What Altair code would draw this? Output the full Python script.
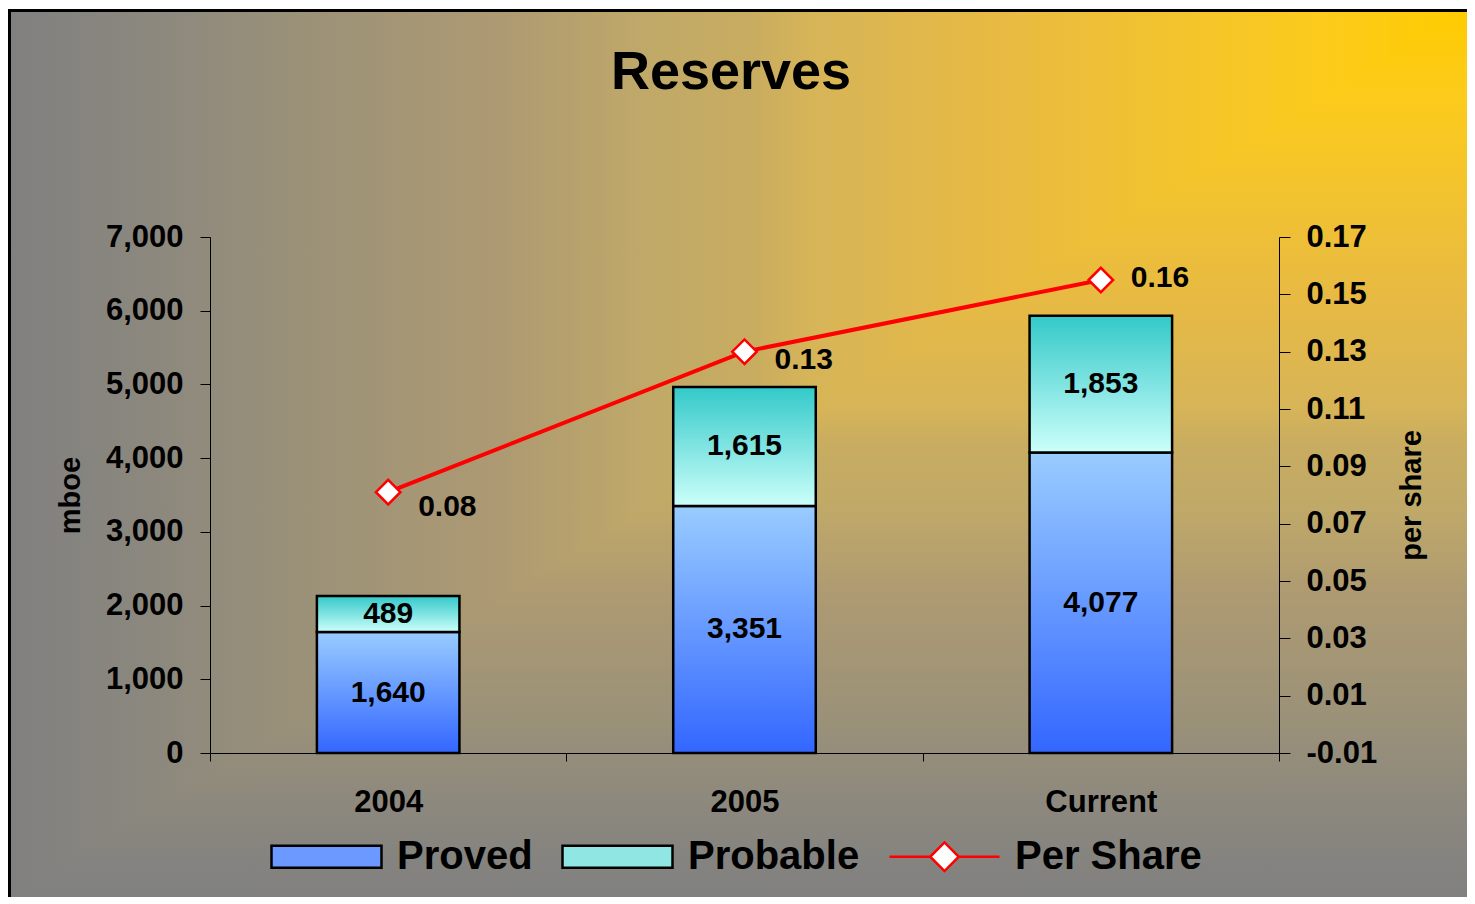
import altair as alt
import pandas as pd

# ---------------- data ----------------
CATEGORIES = ["2004", "2005", "Current"]
PROVED = [1640, 3351, 4077]
PROBABLE = [489, 1615, 1853]
PER_SHARE = [0.081, 0.130, 0.155]
PER_SHARE_LABELS = ["0.08", "0.13", "0.16"]
SERIES = ["Proved", "Probable", "Per Share"]
LEFT_TICKS = [0, 1000, 2000, 3000, 4000, 5000, 6000, 7000]
RIGHT_TICKS = [-0.01, 0.01, 0.03, 0.05, 0.07, 0.09, 0.11, 0.13, 0.15, 0.17]
TITLE = "Reserves"
LEFT_TITLE = "mboe"
RIGHT_TITLE = "per share"

# ---------------- layout / style ----------------
FONT = "Liberation Sans"
W, H = 1069, 516
CX0, CX1, CY0, CY1 = -202, 1257, -228, 660   # canvas extent relative to plot origin
CW, CH = CX1 - CX0, CY1 - CY0
LABEL_DY = [15, 8, -2]   # vertical nudge of each per-share label

RAMP = [(0.00, "#FFCC00"), (0.10, "#FCCB1C"), (0.32, "#E8BA42"), (0.45, "#D6B458"),
        (0.49, "#C8AC60"), (0.56, "#C0A968"), (0.66, "#AE9A72"), (0.79, "#9C9278"),
        (0.90, "#8C887E"), (1.00, "#808080")]
STOPS = [{"offset": o, "color": c} for o, c in RAMP]
GRAD_H = {"gradient": "linear", "x1": 1, "y1": 0, "x2": 0, "y2": 0, "stops": STOPS}
GRAD_V = {"gradient": "linear", "x1": 0, "y1": 0, "x2": 0, "y2": 1, "stops": STOPS}
PROVED_GRAD = {"gradient": "linear", "x1": 0, "y1": 0, "x2": 0, "y2": 1,
               "stops": [{"offset": 0, "color": "#99CCFF"}, {"offset": 1, "color": "#3366FF"}]}
PROBABLE_GRAD = {"gradient": "linear", "x1": 0, "y1": 0, "x2": 0, "y2": 1,
                 "stops": [{"offset": 0, "color": "#33C9C9"}, {"offset": 1, "color": "#CCFFFA"}]}

df = pd.DataFrame({"cat": CATEGORIES, "proved": PROVED, "probable": PROBABLE,
                   "per_share": PER_SHARE, "ps_label": PER_SHARE_LABELS})
df["total"] = df["proved"] + df["probable"]
df["proved_mid"] = df["proved"] / 2
df["probable_mid"] = df["proved"] + df["probable"] / 2

one = alt.Data(values=[{"k": 1}])

# ---------------- background ----------------
bg_h = alt.Chart(one).mark_rect(fill=GRAD_H, strokeWidth=0).encode(
    x=alt.value(CX0), x2=alt.value(CX1), y=alt.value(CY0), y2=alt.value(CY1))
r = CH / CW
TRI = f"M1,{-r:.5f}L1,{r:.5f}L-1,{r:.5f}Z"
bg_v = alt.Chart(one).mark_point(shape=TRI, size=CW * CW, filled=True, fill=GRAD_V,
                                 opacity=1, strokeWidth=0).encode(
    x=alt.value((CX0 + CX1) / 2), y=alt.value((CY0 + CY1) / 2))
border_l = alt.Chart(one).mark_rect(fill="black", strokeWidth=0).encode(
    x=alt.value(CX0), x2=alt.value(CX0 + 3), y=alt.value(CY0), y2=alt.value(CY1))
border_t = alt.Chart(one).mark_rect(fill="black", strokeWidth=0).encode(
    x=alt.value(CX0), x2=alt.value(CX1), y=alt.value(CY0), y2=alt.value(CY0 + 3))

# ---------------- left (bars) ----------------
x_enc = alt.X("cat:N", sort=CATEGORIES,
              scale=alt.Scale(domain=CATEGORIES, paddingInner=0, paddingOuter=0),
              axis=alt.Axis(title=None, labelAngle=0, tickBand="extent", tickSize=8,
                            labelPadding=26, zindex=1))
y_scale = alt.Scale(domain=[0, 7000], nice=False, zero=True)
y_axis = alt.Axis(title=LEFT_TITLE, orient="left", values=LEFT_TICKS, format=",d",
                  tickSize=10, labelPadding=17, titlePadding=20, zindex=1)
base = alt.Chart(df)
proved_bars = base.mark_bar(fill=PROVED_GRAD, stroke="black", strokeWidth=2.5,
                            width={"band": 0.4}).encode(
    x=x_enc, y=alt.Y("proved:Q", scale=y_scale, axis=y_axis))
probable_bars = base.mark_bar(fill=PROBABLE_GRAD, stroke="black", strokeWidth=2.5,
                              width={"band": 0.4}).encode(
    x=x_enc, y=alt.Y("proved:Q", scale=y_scale, axis=y_axis), y2="total:Q")
txt_style = dict(font=FONT, fontSize=30, fontWeight="bold", color="black", baseline="middle")
proved_txt = base.mark_text(**txt_style).encode(
    x=x_enc, y=alt.Y("proved_mid:Q", scale=y_scale, axis=y_axis),
    text=alt.Text("proved:Q", format=",d"))
probable_txt = base.mark_text(**txt_style).encode(
    x=x_enc, y=alt.Y("probable_mid:Q", scale=y_scale, axis=y_axis),
    text=alt.Text("probable:Q", format=",d"))
left = alt.layer(proved_bars, probable_bars, proved_txt, probable_txt)

# ---------------- right (line) ----------------
y2_scale = alt.Scale(domain=[-0.01, 0.17], nice=False, zero=False)
y2_axis = alt.Axis(title=RIGHT_TITLE, orient="right", values=RIGHT_TICKS, format=".2f",
                   labelExpr="replace(datum.label, '\u2212', '-')",
                   tickSize=11, labelPadding=16, titlePadding=50, titleAngle=270, zindex=1)
line = base.mark_line(color="#FF0000", strokeWidth=4).encode(
    x=x_enc, y=alt.Y("per_share:Q", scale=y2_scale, axis=y2_axis))
pts = base.mark_point(shape="diamond", filled=True, fill="white", stroke="#FF0000",
                      strokeWidth=2.5, size=600, opacity=1).encode(
    x=x_enc, y=alt.Y("per_share:Q", scale=y2_scale, axis=y2_axis))
ps_txts = [
    base.transform_filter(alt.datum.cat == c).mark_text(
        align="left", dx=30, dy=d, font=FONT, fontSize=30, fontWeight="bold",
        color="black", baseline="middle").encode(
        x=x_enc, y=alt.Y("per_share:Q", scale=y2_scale, axis=y2_axis), text="ps_label:N")
    for c, d in zip(CATEGORIES, LABEL_DY)
]
right = alt.layer(line, pts, *ps_txts)

# ---------------- title ----------------
title_txt = alt.Chart(alt.Data(values=[{"t": TITLE}])).mark_text(
    font=FONT, fontSize=54, fontWeight="bold", color="black", baseline="middle",
    align="center").encode(x=alt.value(521), y=alt.value(-164), text="t:N")

# ---------------- legend ----------------
RECT_PATH = "M-1,-0.2H1V0.2H-1Z"
LINE_DIAMOND = "M-1,0H-0.26M0.26,0H1M-0.26,0L0,-0.26L0.26,0L0,0.26Z"
leg = alt.Legend(title=None, orient="none", legendX=60, legendY=563, direction="horizontal",
                 columns=3, labelFont=FONT, labelFontSize=40, labelFontWeight="bold",
                 labelColor="black", symbolSize=12100, symbolStrokeWidth=2.5,
                 labelOffset=14, columnPadding=24, labelLimit=600, symbolOpacity=1, zindex=1)
dummy = alt.Chart(alt.Data(values=[{"series": s} for s in SERIES])).mark_point(
    filled=True, opacity=0).encode(
    fill=alt.Fill("series:N", scale=alt.Scale(domain=SERIES, range=["#6B99FF", "#8FE6E2", "white"]),
                  legend=leg),
    stroke=alt.Stroke("series:N", scale=alt.Scale(domain=SERIES, range=["black", "black", "#FF0000"]),
                      legend=leg),
    shape=alt.Shape("series:N", scale=alt.Scale(domain=SERIES, range=[RECT_PATH, RECT_PATH, LINE_DIAMOND]),
                    legend=leg))

chart = alt.layer(bg_h, bg_v, border_l, border_t, left, right, title_txt, dummy).resolve_scale(
    y="independent"
).properties(width=W, height=H, padding=0).configure_view(stroke=None).configure_axis(
    labelFont=FONT, labelFontSize=31, labelFontWeight="bold", labelColor="black",
    titleFont=FONT, titleFontSize=29, titleFontWeight="bold", titleColor="black",
    domainColor="black", tickColor="black", grid=False
)

chart.save("out.html", embed_options={"renderer": "svg", "actions": False})
